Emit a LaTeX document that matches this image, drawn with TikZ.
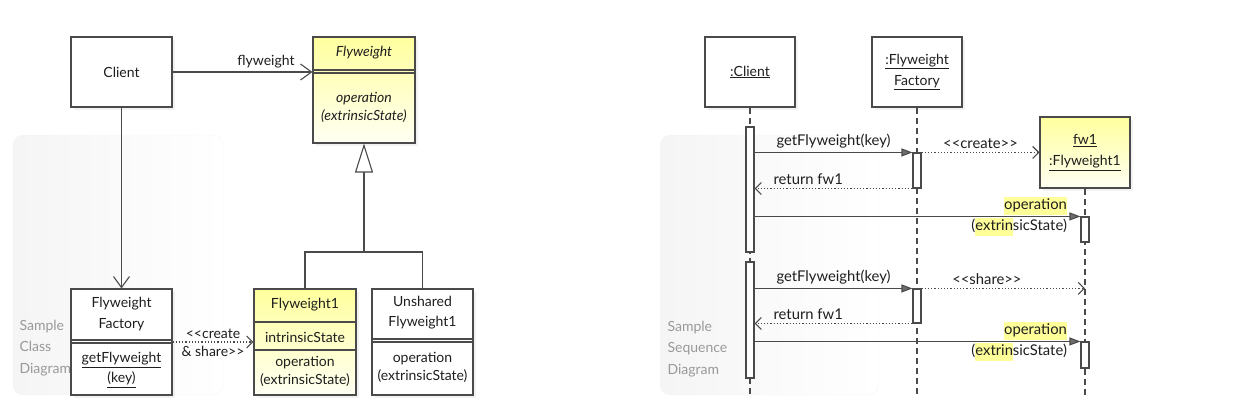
\documentclass[tikz,border=0pt]{standalone}
\usepackage{fontspec}
\setmainfont{Lato}[Ligatures=TeXOff]
\usetikzlibrary{arrows.meta,shadows}
\definecolor{umlline}{HTML}{4A4A4A}
\definecolor{umltext}{HTML}{1E1E1E}
\definecolor{fwyellow}{HTML}{FFFF9E}
\definecolor{hlyellow}{HTML}{FFFF99}
\newcommand{\umlfont}{\fontsize{14}{18}\selectfont}
\newcommand{\msgfont}{\fontsize{14.8}{18}\selectfont}
\newcommand{\hl}[1]{{\setlength{\fboxsep}{0pt}\colorbox{hlyellow}{\strut #1}}}
\tikzset{
  classbox/.style={draw=umlline, line width=1.1pt, fill=white, inner sep=0pt,
    drop shadow={shadow xshift=3pt, shadow yshift=-3pt, opacity=0.10}},
  yellowbox/.style={classbox, top color=fwyellow, bottom color=fwyellow!12},
  classline/.style={draw=umlline, line width=1.1pt},
  panel/.style={draw=black!4, rounded corners=10pt, left color=black!4, right color=white},
  note/.style={anchor=west, align=left, text=black!40, font=\fontsize{14}{21.5}\selectfont},
  assoc/.style={classline, -{Straight Barb[length=11pt,width=16pt]}},
  inherit/.style={classline, -{Triangle[open,length=29pt,width=18pt,fill=white]}},
  depend/.style={classline, dash pattern=on 1.2pt off 2pt, -{Straight Barb[length=6pt,width=12pt]}},
  lifeline/.style={classline, dash pattern=on 6pt off 4pt},
  activation/.style={draw=umlline, line width=1.1pt, fill=white, inner sep=0pt, minimum width=8pt},
  syncmsg/.style={classline, -{Triangle[length=11pt,width=8pt,fill=umlline!80]}},
  replymsg/.style={classline, dash pattern=on 1.2pt off 2pt, -{Straight Barb[length=6pt,width=12pt]}},
  msglabel/.style={font=\msgfont}
}
\begin{document}
\begin{tikzpicture}[x=1pt,y=-1pt, font=\umlfont, text=umltext]
\useasboundingbox (0,0) rectangle (1258,416);
% panels
\node[panel, minimum width=210pt, minimum height=260pt] (classpanel) at (118,265) {};
\node[panel, minimum width=218pt, minimum height=260pt] (seqpanel) at (769,265) {};
\node[note] (classnote) at (16,348) {Sample\\Class\\Diagram};
\node[note] (seqnote) at (664,349) {Sample\\Sequence\\Diagram};

% class diagram
\node[classbox, minimum width=101pt, minimum height=70pt] (client) at (121.5,72) {Client};
\node[yellowbox, minimum width=102pt, minimum height=106pt] (flyweight) at (364,90) {};
\node[font=\umlfont\itshape] (flyweightname) at (364,53) {Flyweight};
\draw[classline] (flyweight.west |- 0,70) -- (flyweight.east |- 0,70);
\draw[classline] (flyweight.west |- 0,73) -- (flyweight.east |- 0,73);
\node[font=\umlfont\itshape, align=center] (flyweightop) at (364,107) {operation\\(extrinsicState)};

\node[classbox, minimum width=101pt, minimum height=106pt] (factory) at (121.5,342) {};
\node[align=center, font=\fontsize{14}{21}\selectfont] (factoryname) at (121.5,314) {Flyweight\\Factory};
\draw[classline] (factory.west |- 0,340) -- (factory.east |- 0,340);
\draw[classline] (factory.west |- 0,343) -- (factory.east |- 0,343);
\node[align=center, font=\fontsize{14}{20}\selectfont] (factoryop) at (121.5,370) {\underline{getFlyweight}\\\underline{(key)}};

\node[yellowbox, minimum width=102pt, minimum height=106pt] (fwone) at (305,342) {};
\node (fwonename) at (305,305) {Flyweight1};
\draw[classline] (fwone.west |- 0,322) -- (fwone.east |- 0,322);
\node (fwonestate) at (305,337) {intrinsicState};
\draw[classline] (fwone.west |- 0,350) -- (fwone.east |- 0,350);
\node[align=center] (fwoneop) at (305,371) {operation\\(extrinsicState)};

\node[classbox, minimum width=101pt, minimum height=106pt] (unshared) at (422.5,342) {};
\node[align=center, font=\fontsize{14}{20}\selectfont] (unsharedname) at (422.5,313) {Unshared\\Flyweight1};
\draw[classline] (unshared.west |- 0,339) -- (unshared.east |- 0,339);
\draw[classline] (unshared.west |- 0,342) -- (unshared.east |- 0,342);
\node[align=center] (unsharedop) at (422.5,367) {operation\\(extrinsicState)};

\draw[assoc] (client.east) -- (client.east -| flyweight.west) node[pos=1, above left, xshift=-14pt] (rolelbl) {flyweight};
\draw[assoc] (client.south) -- (factory.north);
\coordinate (branch) at (364,252);
\draw[classline] (fwone.north) |- (branch) -| (unshared.north);
\draw[inherit] (branch) -- (flyweight.south);
\draw[depend] (factory.east) -- node[above] (createtop) {<<create} node[below] (createbot) {\& share>>} (fwone.west);

% sequence diagram
\node[classbox, minimum width=90pt, minimum height=70pt] (clientobj) at (750,72) {\underline{:Client}};
\node[classbox, minimum width=90pt, minimum height=70pt, align=center, font=\fontsize{14}{21}\selectfont] (factoryobj) at (917,72) {\underline{:Flyweight}\\\underline{Factory}};
\node[yellowbox, minimum width=90pt, minimum height=71pt, align=center, font=\fontsize{14}{21}\selectfont] (fwobj) at (1085,152.5) {\underline{fw1}\\\underline{:Flyweight1}};
\coordinate (lifeend) at (0,395);
\foreach \o in {clientobj,factoryobj,fwobj}
  \draw[lifeline] (\o.south) -- (\o.south |- lifeend);
\foreach \n/\o/\c/\h in {clientact1/clientobj/189.5/125,clientact2/clientobj/320/116,factoryact1/factoryobj/170.5/35,factoryact2/factoryobj/306/34,fwact1/fwobj/229.5/25,fwact2/fwobj/355/26}
  \node[activation, minimum height=\h pt] (\n) at (\o.south |- 0,\c) {};

\draw[syncmsg] (clientact1.east |- factoryact1.north) -- node[above, msglabel] (getone) {getFlyweight(key)} (factoryact1.north west);
\draw[replymsg] (factoryact1.north east) -- node[above, msglabel] (createlbl) {<<create>>} (fwobj.west |- factoryact1.north);
\draw[replymsg] (factoryact1.south west) -- node[above, pos=0.66, msglabel] (retone) {return fw1} (clientact1.east |- factoryact1.south);
\draw[syncmsg] (clientact1.east |- fwact1.north) -- (fwact1.north west)
  node[pos=1, above left, xshift=-12pt, inner sep=1pt, msglabel] (opone) {\hl{operation}}
  node[pos=1, below left, xshift=-12pt, inner sep=1pt, msglabel] (argone) {(\hl{extrin}sicState)};

\draw[syncmsg] (clientact2.east |- factoryact2.north) -- node[above, msglabel] (gettwo) {getFlyweight(key)} (factoryact2.north west);
\draw[replymsg] (factoryact2.north east) -- node[above, pos=0.4, msglabel] (sharelbl) {<<share>>} (fwobj.south |- factoryact2.north);
\draw[replymsg] (factoryact2.south west) -- node[above, pos=0.66, msglabel] (rettwo) {return fw1} (clientact2.east |- factoryact2.south);
\draw[syncmsg] (clientact2.east |- fwact2.north) -- (fwact2.north west)
  node[pos=1, above left, xshift=-12pt, inner sep=1pt, msglabel] (optwo) {\hl{operation}}
  node[pos=1, below left, xshift=-12pt, inner sep=1pt, msglabel] (argtwo) {(\hl{extrin}sicState)};
\end{tikzpicture}
\end{document}
